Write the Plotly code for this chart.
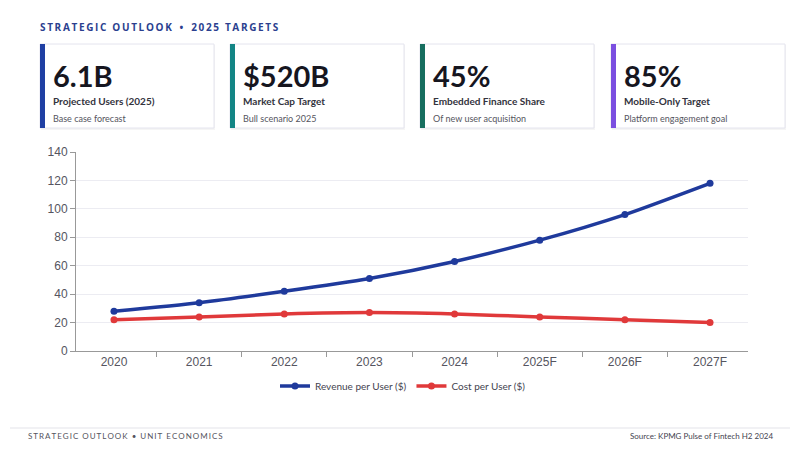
import plotly.graph_objects as go

years = ["2020", "2021", "2022", "2023", "2024", "2025F", "2026F", "2027F"]
revenue = [28, 34, 42, 51, 63, 78, 96, 118]
cost = [22, 24, 26, 27, 26, 24, 22, 20]

kpi_values = ["6.1B", "$520B", "45%", "85%"]
kpi_labels = ["Projected Users (2025)", "Market Cap Target", "Embedded Finance Share", "Mobile-Only Target"]
kpi_subs = ["Base case forecast", "Bull scenario 2025", "Of new user acquisition", "Platform engagement goal"]
kpi_colors = ["#1f3fa3", "#138585", "#176e5f", "#7b4fe0"]

# figure sized so the page (with the browser's 8px body margin) fits the 800x450 window
M = 8
W, H = 800 - 2 * M, 450 - 2 * M

def px(x):
    return (x - M) / W

def py(y):
    return 1 - (y - M) / H

def spaced(s, sep="\u2009"):
    return sep.join(list(s))

fig = go.Figure()
fig.add_trace(go.Scatter(x=years, y=revenue, name="Revenue per User ($)", mode="lines+markers",
                         line=dict(color="#1f3a9c", width=3.5, shape="spline", smoothing=0.6),
                         marker=dict(size=7, color="#1f3a9c")))
fig.add_trace(go.Scatter(x=years, y=cost, name="Cost per User ($)", mode="lines+markers",
                         line=dict(color="#e0393a", width=3.5, shape="spline", smoothing=0.6),
                         marker=dict(size=7, color="#e0393a")))

shapes = []
annotations = []

annotations.append(dict(x=px(38), y=py(27), xref="paper", yref="paper", xanchor="left", yanchor="middle",
                        text="<b>" + spaced("STRATEGIC OUTLOOK") + "   •   " + spaced("2025 TARGETS") + "</b>",
                        showarrow=False, font=dict(family="Open Sans", size=10, color="#2b3f8f")))

card_x = [40, 230, 420, 611]
card_w = 174
for i in range(4):
    x0 = card_x[i]
    shapes.append(dict(type="rect", xref="paper", yref="paper", x0=px(x0 + 1), x1=px(x0 + card_w + 1),
                       y0=py(130), y1=py(45), line=dict(width=0), fillcolor="rgba(0,0,0,0.04)", layer="below"))
    shapes.append(dict(type="rect", xref="paper", yref="paper", x0=px(x0), x1=px(x0 + card_w),
                       y0=py(128), y1=py(44), line=dict(width=1, color="#e4e4ee"), fillcolor="white", layer="below"))
    shapes.append(dict(type="rect", xref="paper", yref="paper", x0=px(x0), x1=px(x0 + 5),
                       y0=py(128), y1=py(44), line=dict(width=0), fillcolor=kpi_colors[i], layer="below"))
    annotations.append(dict(x=px(x0 + 11), y=py(75), xref="paper", yref="paper", xanchor="left", yanchor="middle",
                            text="<b>" + kpi_values[i] + "</b>", showarrow=False,
                            font=dict(family="Lato", size=29, color="#16161f")))
    annotations.append(dict(x=px(x0 + 11), y=py(101), xref="paper", yref="paper", xanchor="left", yanchor="middle",
                            text="<b>" + kpi_labels[i] + "</b>", showarrow=False,
                            font=dict(family="Lato", size=10, color="#33333d")))
    annotations.append(dict(x=px(x0 + 11), y=py(118), xref="paper", yref="paper", xanchor="left", yanchor="middle",
                            text=kpi_subs[i], showarrow=False,
                            font=dict(family="Lato", size=9, color="#555560")))

# footer (kept inside the figure's bottom edge)
shapes.append(dict(type="line", xref="paper", yref="paper", x0=px(10), x1=px(790), y0=py(428), y1=py(428),
                   line=dict(color="#ececf0", width=1.5)))
annotations.append(dict(x=px(26), y=py(436), xref="paper", yref="paper", xanchor="left", yanchor="middle",
                        text=spaced("STRATEGIC OUTLOOK") + "  •  " + spaced("UNIT ECONOMICS"), showarrow=False,
                        font=dict(family="Lato", size=8, color="#555560")))
annotations.append(dict(x=px(775), y=py(436), xref="paper", yref="paper", xanchor="right", yanchor="middle",
                        text="Source: KPMG Pulse of Fintech H2 2024", showarrow=False,
                        font=dict(family="Lato", size=8, color="#444450")))

fig.update_layout(
    width=W, height=H,
    margin=dict(l=0, r=0, t=0, b=0),
    paper_bgcolor="white", plot_bgcolor="white",
    shapes=shapes, annotations=annotations,
    showlegend=True,
    legend=dict(orientation="h", x=px(403), xanchor="center", y=py(386), yanchor="middle",
                font=dict(family="Lato", size=10, color="#444450")),
    xaxis=dict(domain=[px(76), px(748)], showline=True, linecolor="#999999", linewidth=1,
               ticks="outside", tickson="boundaries", ticklen=5, tickcolor="#999999",
               showgrid=False, automargin=False,
               tickfont=dict(family="Liberation Sans", size=12, color="#555560")),
    yaxis=dict(domain=[py(351), py(152)], range=[0, 140], dtick=20, showline=True, linecolor="#999999",
               linewidth=1, ticks="outside", ticklen=5, tickcolor="#999999",
               gridcolor="#ececf2", zeroline=False, automargin=False,
               tickfont=dict(family="Liberation Sans", size=12, color="#555560")),
)

fig.write_html("out.html")
